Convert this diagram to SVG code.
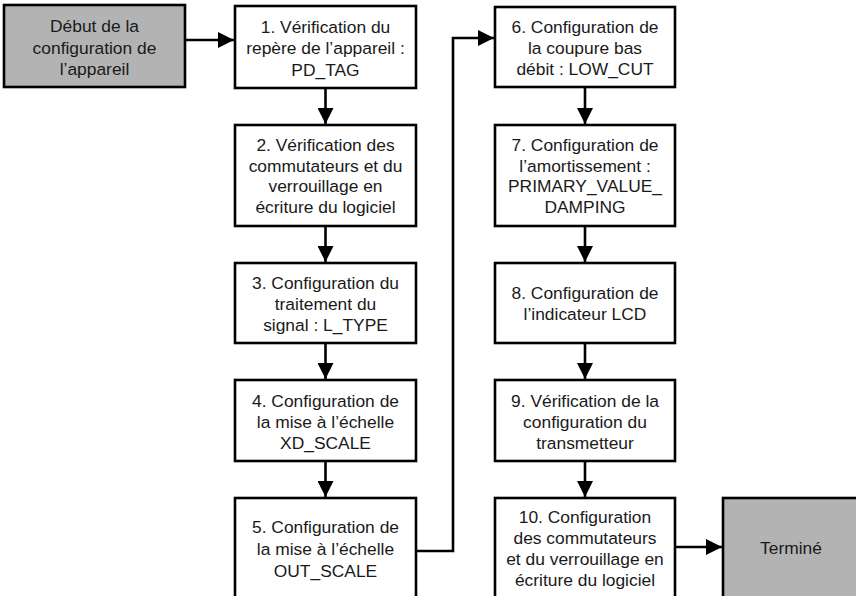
<svg xmlns="http://www.w3.org/2000/svg" width="856" height="596" viewBox="0 0 856 596">
<defs>
<style>
.box{fill:#ffffff;stroke:#000;stroke-width:2.6}
.grey{fill:#b3b3b3;stroke:#000;stroke-width:2.6}
text{font-family:"Liberation Sans",Arial,sans-serif;font-size:17.4px;fill:#1a1a1a;text-anchor:middle}
.conn{fill:none;stroke:#000;stroke-width:2.6}
</style>
<marker id="ah" markerUnits="userSpaceOnUse" markerWidth="16" markerHeight="16" viewBox="0 0 14 14" refX="14" refY="7" orient="auto">
<path d="M0,0 L14,7 L0,14 Z" fill="#000"/>
</marker>
</defs>
<rect width="856" height="596" fill="#fff"/>
<g id="connectors">
<line class="conn" x1="186" y1="40" x2="234" y2="40" marker-end="url(#ah)"/>
<line class="conn" x1="325.5" y1="88" x2="325.5" y2="124" marker-end="url(#ah)"/>
<line class="conn" x1="325.5" y1="226" x2="325.5" y2="262" marker-end="url(#ah)"/>
<line class="conn" x1="325.5" y1="343" x2="325.5" y2="379" marker-end="url(#ah)"/>
<line class="conn" x1="325.5" y1="461" x2="325.5" y2="497" marker-end="url(#ah)"/>
<polyline class="conn" points="417,551 453,551 453,38 494,38" marker-end="url(#ah)"/>
<line class="conn" x1="585" y1="87" x2="585" y2="124" marker-end="url(#ah)"/>
<line class="conn" x1="585" y1="226" x2="585" y2="262" marker-end="url(#ah)"/>
<line class="conn" x1="585" y1="343" x2="585" y2="379" marker-end="url(#ah)"/>
<line class="conn" x1="585" y1="461" x2="585" y2="497" marker-end="url(#ah)"/>
<line class="conn" x1="675" y1="547" x2="722" y2="547" marker-end="url(#ah)"/>
</g>
<g id="start">
<rect class="grey" x="4" y="5" width="181" height="82"/>
<text x="94.5" y="32">Début de la</text>
<text x="94.5" y="54">configuration de</text>
<text x="94.5" y="75">l’appareil</text>
</g>
<g id="step1">
<rect class="box" x="235" y="6" width="181" height="82"/>
<text x="325.5" y="32.5">1. Vérification du</text>
<text x="325.5" y="54">repère de l’appareil :</text>
<text x="325.5" y="75.5">PD_TAG</text>
</g>
<g id="step2">
<rect class="box" x="235" y="125" width="181" height="101"/>
<text x="325.5" y="151">2. Vérification des</text>
<text x="325.5" y="171.5">commutateurs et du</text>
<text x="325.5" y="192">verrouillage en</text>
<text x="325.5" y="212.5">écriture du logiciel</text>
</g>
<g id="step3">
<rect class="box" x="235" y="263" width="181" height="80"/>
<text x="325.5" y="289">3. Configuration du</text>
<text x="325.5" y="310">traitement du</text>
<text x="325.5" y="331">signal : L_TYPE</text>
</g>
<g id="step4">
<rect class="box" x="235" y="380" width="181" height="81"/>
<text x="325.5" y="406.5">4. Configuration de</text>
<text x="325.5" y="427.5">la mise à l’échelle</text>
<text x="325.5" y="448.5">XD_SCALE</text>
</g>
<g id="step5">
<rect class="box" x="235" y="498" width="181" height="110"/>
<text x="325.5" y="533">5. Configuration de</text>
<text x="325.5" y="555">la mise à l’échelle</text>
<text x="325.5" y="577">OUT_SCALE</text>
</g>
<g id="step6">
<rect class="box" x="495" y="7" width="180" height="80"/>
<text x="585" y="33">6. Configuration de</text>
<text x="585" y="54">la coupure bas</text>
<text x="585" y="75">débit : LOW_CUT</text>
</g>
<g id="step7">
<rect class="box" x="495" y="125" width="180" height="101"/>
<text x="585" y="151">7. Configuration de</text>
<text x="585" y="171.5">l’amortissement :</text>
<text x="585" y="192">PRIMARY_VALUE_</text>
<text x="585" y="212.5">DAMPING</text>
</g>
<g id="step8">
<rect class="box" x="495" y="263" width="180" height="80"/>
<text x="585" y="299">8. Configuration de</text>
<text x="585" y="320">l’indicateur LCD</text>
</g>
<g id="step9">
<rect class="box" x="495" y="380" width="180" height="81"/>
<text x="585" y="406.5">9. Vérification de la</text>
<text x="585" y="427.5">configuration du</text>
<text x="585" y="448.5">transmetteur</text>
</g>
<g id="step10">
<rect class="box" x="495" y="498" width="180" height="110"/>
<text x="585" y="523">10. Configuration</text>
<text x="585" y="544">des commutateurs</text>
<text x="585" y="565">et du verrouillage en</text>
<text x="585" y="586">écriture du logiciel</text>
</g>
<g id="end">
<rect class="grey" x="723" y="498" width="140" height="110"/>
<text x="791" y="554">Terminé</text>
</g>
</svg>
